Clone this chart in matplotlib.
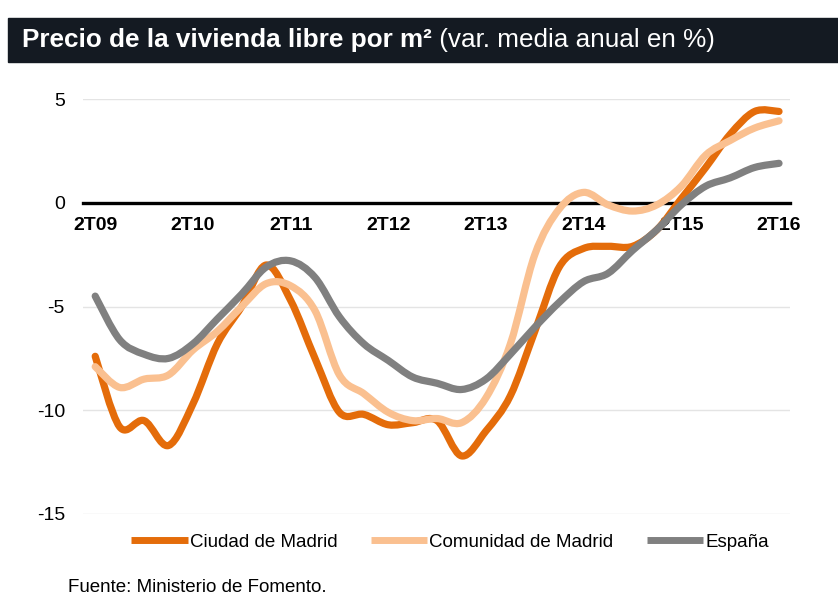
import matplotlib
matplotlib.use("Agg")
import matplotlib.pyplot as plt
from matplotlib.path import Path
from matplotlib.patches import PathPatch, Rectangle
from matplotlib.lines import Line2D

plt.rcParams['font.family'] = ['Liberation Sans', 'DejaVu Sans']

# trimestres 2T09 .. 2T16
quarters = list(range(29))
tick_pos = [0, 4, 8, 12, 16, 20, 24, 28]
tick_labels = ["2T09", "2T10", "2T11", "2T12", "2T13", "2T14", "2T15", "2T16"]

ciudad = [-7.4, -10.8, -10.5, -11.7, -9.7, -6.8, -5.0, -3.0, -4.7, -7.5,
          -10.1, -10.2, -10.7, -10.6, -10.5, -12.2, -11.0, -9.3, -6.2, -3.1,
          -2.2, -2.1, -2.1, -1.3, 0.2, 1.7, 3.3, 4.4, 4.4]
comunidad = [-7.9, -8.9, -8.5, -8.3, -7.1, -6.2, -5.0, -3.9, -4.0, -5.2,
             -8.3, -9.2, -10.1, -10.5, -10.4, -10.6, -9.4, -6.8, -2.5, -0.3,
             0.5, -0.1, -0.4, -0.1, 0.8, 2.3, 3.0, 3.6, 3.95]
espana = [-4.5, -6.6, -7.3, -7.5, -6.8, -5.6, -4.4, -3.1, -2.8, -3.6,
          -5.5, -6.8, -7.6, -8.4, -8.7, -9.0, -8.5, -7.3, -6.0, -4.8,
          -3.8, -3.4, -2.3, -1.3, -0.1, 0.8, 1.2, 1.7, 1.9]

series = [("Ciudad de Madrid", ciudad, "#E46C0A"),
          ("Comunidad de Madrid", comunidad, "#FAC090"),
          ("España", espana, "#808080")]


def smooth_path(xs, ys):
    # curva suavizada tipo Excel (Bezier entre los puntos)
    pts = list(zip(xs, ys))
    verts = [pts[0]]
    codes = [Path.MOVETO]
    n = len(pts)
    for i in range(n - 1):
        p0 = pts[i - 1] if i > 0 else pts[i]
        p1 = pts[i]
        p2 = pts[i + 1]
        p3 = pts[i + 2] if i + 2 < n else pts[i + 1]
        c1 = (p1[0] + (p2[0] - p0[0]) / 6, p1[1] + (p2[1] - p0[1]) / 6)
        c2 = (p2[0] - (p3[0] - p1[0]) / 6, p2[1] - (p3[1] - p1[1]) / 6)
        verts += [c1, c2, p2]
        codes += [Path.CURVE4] * 3
    return Path(verts, codes)


fig = plt.figure(figsize=(8.38, 5.99), dpi=100)
ax = fig.add_axes([83 / 838, 1 - 514 / 599, (790 - 83) / 838, (514 - 99) / 599])

# barra del titulo
fig.patches.append(Rectangle((8 / 838, 1 - 62 / 599), 1 - 8 / 838, 44 / 599,
                             transform=fig.transFigure, color="#141a22", zorder=0))
t1 = fig.text(22 / 838, 1 - 40 / 599, "Precio de la vivienda libre por m²",
              color="white", fontsize=18.8, fontweight="bold", va="center")
renderer = fig.canvas.get_renderer()
bb = t1.get_window_extent(renderer)
fig.text(bb.x1 / fig.bbox.width, 1 - 40 / 599, " (var. media anual en %)",
         color="white", fontsize=18.8, va="center")

for name, vals, col in series:
    patch = PathPatch(smooth_path(quarters, vals), facecolor="none", edgecolor=col,
                      lw=5.2, capstyle="round", joinstyle="round", zorder=3)
    ax.add_patch(patch)

for s in ["top", "right", "left"]:
    ax.spines[s].set_visible(False)
ax.spines["bottom"].set_position(("data", 0))
ax.spines["bottom"].set_linewidth(2.4)
ax.spines["bottom"].set_color("black")
ax.spines["bottom"].set_zorder(2)

ax.set_xlim(-0.5, 28.45)
ax.set_ylim(-15, 5)
ax.set_yticks([-15, -10, -5, 0, 5])
ax.set_yticklabels(["-15", "-10", "-5", "0", "5"], fontsize=14)
ax.set_xticks(tick_pos)
ax.set_xticklabels(tick_labels, fontsize=14, fontweight="bold")
ax.tick_params(axis="y", length=0, pad=13)
ax.tick_params(axis="x", length=0, pad=10)
ax.grid(axis="y", color="#e4e4e4", lw=1)
ax.set_axisbelow(True)

handles = [Line2D([], [], color=c, lw=5, solid_capstyle="butt") for _, _, c in series]
fig.legend(handles, [s[0] for s in series], loc="center",
           bbox_to_anchor=(450 / 838, 1 - 542 / 599), ncol=3, frameon=False,
           fontsize=13.5, handlelength=3.0, handletextpad=0.1, columnspacing=1.8)

fig.text(68 / 838, 1 - 588 / 599, "Fuente: Ministerio de Fomento.", fontsize=13.5,
         va="center")

fig.savefig("out.png", dpi=100)
